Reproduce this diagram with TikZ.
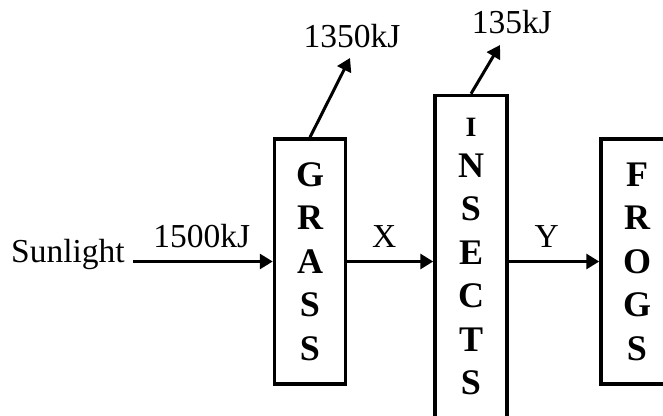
\documentclass[tikz,border=0pt]{standalone}
\usepackage{fontspec}
\setmainfont{Liberation Serif}
\usetikzlibrary{arrows.meta, positioning}

\begin{document}
\begin{tikzpicture}[
  x=1pt, y=-1pt,
  font=\fontsize{33.5}{40}\selectfont,
  level/.style={draw, line width=3.5pt, minimum width=71pt, inner sep=0pt, align=center, font=\fontsize{36}{43.5}\selectfont\bfseries},
  arrow/.style={-{Triangle[length=13pt, width=15pt]}, line width=3pt}
]
\useasboundingbox (0,0) rectangle (663,415);
\node[level, minimum height=245pt] (grass) at (310,261.5) {G\\R\\A\\S\\S};
\node[level, minimum height=323pt, minimum width=72pt] (insects) at (471,257) {{\fontsize{28}{28}\selectfont I}\\[-3pt]N\\S\\E\\C\\T\\S};
\node[level, minimum height=245pt, minimum width=72pt] (frogs) at (637,261.5) {F\\R\\O\\G\\S};
\node[anchor=base east, inner sep=0pt] (sun) at (125,262) {Sunlight};
\coordinate (grass-out) at (350,58);
\coordinate (insects-out) at (500,45);
\draw[arrow, shorten <=8pt] (sun.east |- grass.west) -- (grass.west) node[pos=0.52, anchor=base, yshift=14pt] {1500kJ};
\draw[arrow] (grass.east) -- (grass.east -| insects.west) node[pos=0.43, anchor=base, yshift=14pt] {X};
\draw[arrow] (insects.east |- frogs.west) -- (frogs.west) node[pos=0.42, anchor=base, yshift=14pt] {Y};
\draw[arrow] (grass.north) -- (grass-out) node[at end, anchor=base, yshift=11pt, xshift=2pt] {1350kJ};
\draw[arrow] (insects.north) -- (insects-out) node[at end, anchor=base, yshift=12pt, xshift=12pt] {135kJ};
\end{tikzpicture}
\end{document}
